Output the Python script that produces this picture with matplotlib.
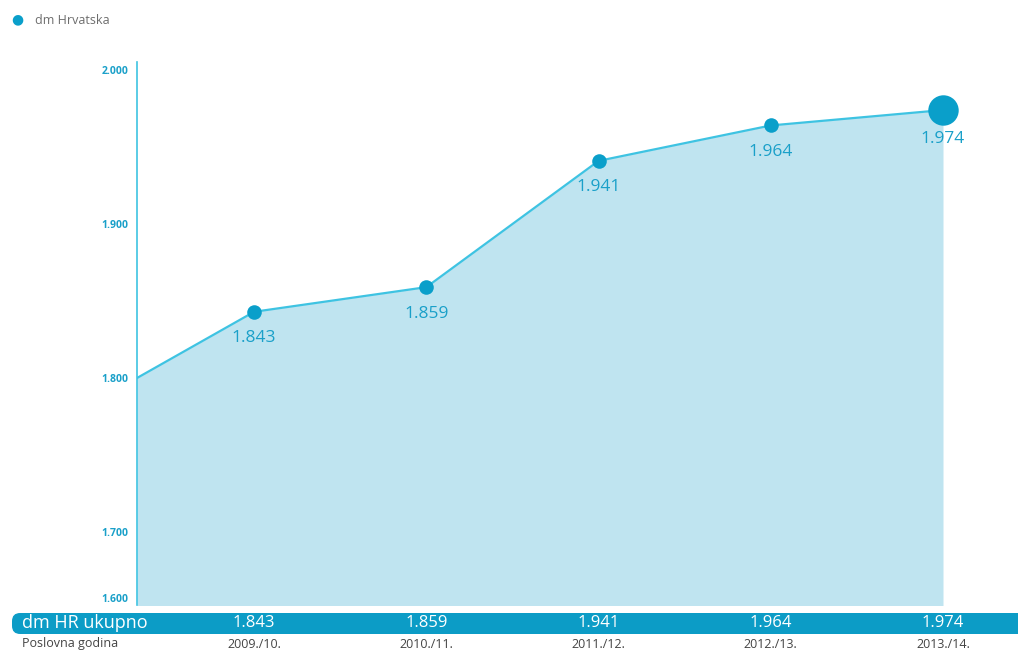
import numpy as np
import matplotlib
matplotlib.use('Agg')
import matplotlib.pyplot as plt
from matplotlib.patches import FancyBboxPatch
from matplotlib.transforms import blended_transform_factory

# data
years = ['2009./10.', '2010./11.', '2011./12.', '2012./13.', '2013./14.']
values = [1843, 1859, 1941, 1964, 1974]
start_value = 1800  # line starts at the axis from previous year level
yticks = [1600, 1700, 1800, 1900, 2000]
ytick_labels = ['1.600', '1.700', '1.800', '1.900', '2.000']

line_col = '#3ec3e2'
fill_col = '#bfe4f0'
dot_col = '#0a9fca'
label_col = '#1aa0c9'
band_col = '#0c9cc6'

plt.rcParams['font.family'] = ['Open Sans', 'DejaVu Sans']

W, H = 1018, 651
fig = plt.figure(figsize=(W / 100, H / 100), dpi=100)


def px_axes(l, t, r, b):
    return [l / W, 1 - b / H, (r - l) / W, (b - t) / H]


ax = fig.add_axes(px_axes(137, 62, 1000, 605))


# compress the 1.600 - 1.700 band like the original
def fwd(v):
    v = np.asarray(v, dtype=float)
    return np.where(v >= 1700, v, 1700 - (1700 - v) * (66 / 154))


def inv(v):
    v = np.asarray(v, dtype=float)
    return np.where(v >= 1700, v, 1700 - (1700 - v) * (154 / 66))


ax.set_yscale('function', functions=(fwd, inv))

x0 = -0.68
xs = np.arange(len(values))
lx = np.concatenate([[x0], xs])
ly = np.concatenate([[start_value], values])

ax.fill_between(lx, ly, 1500, color=fill_col, lw=0, zorder=1)
ax.plot(lx, ly, color=line_col, lw=1.6, zorder=2)
ax.scatter(xs[:-1], values[:-1], s=110, color=dot_col, zorder=3, lw=0)
ax.scatter(xs[-1:], values[-1:], s=480, color=dot_col, zorder=3, lw=0)

for i, (x, v) in enumerate(zip(xs, values)):
    lab = '{:.3f}'.format(v / 1000)
    off = -19 if i < len(values) - 1 else -21
    ax.annotate(lab, (x, v), xytext=(0, off), textcoords='offset points',
                ha='center', va='center', fontsize=12.5, color=label_col, zorder=4)

ax.set_xlim(x0, 4 + 57 / 172.25)
ax.set_ylim(inv(1652.6), 2005.2)
ax.set_yticks(yticks)
ax.set_yticklabels(ytick_labels)
ax.tick_params(axis='y', length=0, pad=6, labelsize=7.5, labelcolor=label_col)
for lbl in ax.get_yticklabels():
    lbl.set_fontweight('bold')
ax.set_xticks([])
for s in ['top', 'right', 'bottom']:
    ax.spines[s].set_visible(False)
ax.spines['left'].set_color(line_col)
ax.spines['left'].set_linewidth(1.2)
ax.patch.set_alpha(0)

# legend
fig.text(17 / W, 1 - 20 / H, '\u25cf', color=dot_col, fontsize=10, ha='center', va='center')
fig.text(35 / W, 1 - 20 / H, 'dm Hrvatska', color='#6d6d6d', fontsize=9, ha='left', va='center')

# bottom band
band = FancyBboxPatch((12 / W, 1 - 634 / H), 1.2, 21 / H,
                      boxstyle='round,pad=0,rounding_size=0.008',
                      transform=fig.transFigure, facecolor=band_col, edgecolor='none',
                      mutation_aspect=W / H)
fig.patches.append(band)

tr = blended_transform_factory(ax.transData, fig.transFigure)
fig.text(22 / W, 1 - 623 / H, 'dm HR ukupno', color='white', fontsize=13, ha='left', va='center')
fig.text(22 / W, 1 - 644 / H, 'Poslovna godina', color='#444444', fontsize=9, ha='left', va='center')
for x, v, yr in zip(xs, values, years):
    fig.text(x, 1 - 623 / H, '{:.3f}'.format(v / 1000), transform=tr, color='white',
             fontsize=12, ha='center', va='center')
    fig.text(x, 1 - 644 / H, yr, transform=tr, color='#444444',
             fontsize=9, ha='center', va='center')

fig.savefig('out.png', dpi=100)
